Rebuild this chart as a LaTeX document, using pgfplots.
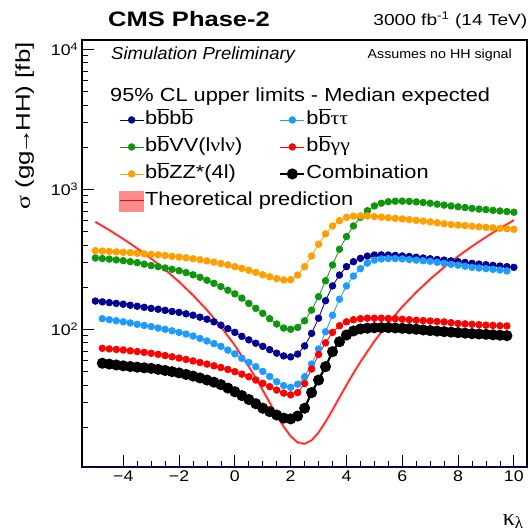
\documentclass[border=0pt]{standalone}
\usepackage{pgfplots}
\pgfplotsset{compat=1.18}
\usepackage{fontspec}
\setmainfont{Liberation Sans}
\newfontfamily\grk{Liberation Serif}
\newcommand\sx[1]{\scalebox{1.15}[1]{#1}}
\newcommand\bb{\ensuremath{\overline{\mbox{b}}}}
\definecolor{cnavy}{RGB}{0,0,145}
\definecolor{clblue}{RGB}{30,155,255}
\definecolor{cgreen}{RGB}{15,150,15}
\definecolor{cred}{RGB}{255,0,0}
\definecolor{corange}{RGB}{255,160,0}
\definecolor{cband}{RGB}{255,140,140}
\begin{document}
\begin{tikzpicture}
\begin{axis}[
 scale only axis, width=445bp, height=427.3bp,
 xmin=-5.49, xmax=10.46, ymode=log, ymin=10.33, ymax=11650,
 axis line style={line width=1.8bp},
 tick align=inside, xtick pos=left, ytick pos=left,
 major tick length=12bp, minor tick length=6bp,
 tick style={black, line width=0.8bp},
 xtick={-4,-2,0,2,4,6,8,10},
 xticklabels={\sx{−4},\sx{−2},\sx{0},\sx{2},\sx{4},\sx{6},\sx{8},\sx{10}},
 minor x tick num=3,
 ytick={100,1000,10000},
 yticklabels={\sx{10\textsuperscript{2}},\sx{10\textsuperscript{3}},\sx{10\textsuperscript{4}}},
 minor ytick={20,30,40,50,60,70,80,90,200,300,400,500,600,700,800,900,2000,3000,4000,5000,6000,7000,8000,9000},
 /pgf/number format/assume math mode=true,
 tick label style={font=\fontsize{15.5}{16}\selectfont},
 legend columns=2,
 legend cell align=left,
 legend style={at={(0.077,0.842)}, anchor=north west, draw=none, fill=none,
   font=\fontsize{19}{20}\selectfont, row sep=6.5bp,
   /tikz/every even column/.append style={column sep=36bp},
   nodes={inner sep=1bp, text height=14bp, text depth=4.5bp}},
 legend image code/.code={\draw[mark repeat=2,mark phase=2] plot coordinates {(0bp,0bp)(12bp,0bp)(24bp,0bp)};},
]
\addplot[cnavy, mark=*, mark size=3.3bp, line width=0.8bp] coordinates {
(-5,159)(-4.75,157)(-4.5,155)(-4.25,153)(-4,151)(-3.75,148.5)(-3.5,146)(-3.25,143.5)(-3,141)(-2.75,139)(-2.5,136.5)(-2.25,134)(-2,132)(-1.75,129)(-1.5,126)(-1.25,122)(-1,118)(-0.75,113)(-0.5,107)(-0.25,101)(0,95)(0.25,89)(0.5,84)(0.75,79.5)(1,75.5)(1.25,71.5)(1.5,67.5)(1.75,64.5)(2,63.5)(2.25,66.5)(2.5,76)(2.75,93.5)(3,120)(3.25,160)(3.5,204)(3.75,244)(4,280)(4.25,304)(4.5,321)(4.75,333)(5,339)(5.25,340)(5.5,339)(5.75,337)(6,334)(6.25,331)(6.5,327)(6.75,323)(7,319)(7.25,315)(7.5,312)(7.75,308)(8,304)(8.25,300)(8.5,296)(8.75,292)(9,289)(9.25,286)(9.5,283)(9.75,280)(10,277)};
\addlegendentry{\sx{b\bb b\bb}}
\addplot[clblue, mark=*, mark size=3.3bp, line width=0.8bp] coordinates {
(-4.75,119)(-4.5,117)(-4.25,115)(-4,113)(-3.75,111)(-3.5,108.5)(-3.25,106.5)(-3,104.5)(-2.75,102)(-2.5,100)(-2.25,97.5)(-2,95)(-1.75,92.5)(-1.5,89.5)(-1.25,86)(-1,82.5)(-0.75,79)(-0.5,75.5)(-0.25,71)(0,66.7)(0.25,62)(0.5,58)(0.75,54)(1,50)(1.25,46)(1.5,42.2)(1.75,39.6)(2,38.5)(2.25,40.5)(2.5,45.8)(2.75,56.4)(3,72.3)(3.25,96)(3.5,126)(3.75,164)(4,204)(4.25,240)(4.5,271)(4.75,297)(5,312)(5.25,318)(5.5,320)(5.75,320)(6,318)(6.25,315)(6.5,312)(6.75,309)(7,306)(7.25,301)(7.5,296)(7.75,291)(8,287)(8.25,282)(8.5,277)(8.75,274)(9,271)(9.25,268)(9.5,265)(9.75,261)};
\addlegendentry{\sx{b\bb{\grk ττ}}}
\addplot[cgreen, mark=*, mark size=3.3bp, line width=0.8bp] coordinates {
(-5,323)(-4.75,320)(-4.5,317)(-4.25,313)(-4,309)(-3.75,304)(-3.5,299)(-3.25,292)(-3,285)(-2.75,280)(-2.5,274)(-2.25,268)(-2,262)(-1.75,254)(-1.5,245)(-1.25,235)(-1,224)(-0.75,213)(-0.5,202)(-0.25,190)(0,179)(0.25,167)(0.5,153)(0.75,141)(1,130)(1.25,119)(1.5,109)(1.75,102)(2,100)(2.25,103)(2.5,115)(2.75,137)(3,171)(3.25,222)(3.5,288)(3.75,373)(4,459)(4.25,547)(4.5,631)(4.75,703)(5,760)(5.25,795)(5.5,815)(5.75,822)(6,823)(6.25,820)(6.5,813)(6.75,804)(7,795)(7.25,783)(7.5,771)(7.75,760)(8,750)(8.25,740)(8.5,730)(8.75,722)(9,715)(9.25,707)(9.5,700)(9.75,693)(10,686)};
\addlegendentry{\sx{b\bb VV(l{\grk ν}l{\grk ν})}}
\addplot[cred, mark=*, mark size=3.3bp, line width=0.8bp] coordinates {
(-4.75,73.1)(-4.5,72.4)(-4.25,71.8)(-4,71.1)(-3.75,70.2)(-3.5,69.3)(-3.25,68.4)(-3,67.4)(-2.75,66.2)(-2.5,64.9)(-2.25,63.6)(-2,62.3)(-1.75,60.9)(-1.5,59.4)(-1.25,57.9)(-1,56.4)(-0.75,54.8)(-0.5,53.3)(-0.25,51.6)(0,49.8)(0.25,47.8)(0.5,45.8)(0.75,43.4)(1,41.1)(1.25,38.9)(1.5,36.8)(1.75,35)(2,34)(2.25,35.3)(2.5,41)(2.75,52)(3,66)(3.25,80)(3.5,95)(3.75,106)(4,113)(4.25,117)(4.5,119)(4.75,120)(5,120)(5.25,120)(5.5,119.5)(5.75,119)(6,118)(6.25,117)(6.5,116)(6.75,115.3)(7,114.6)(7.25,113.7)(7.5,112.8)(7.75,111.4)(8,110)(8.25,109.3)(8.5,108.6)(8.75,107.8)(9,107)(9.25,106.5)(9.5,106)(9.75,105.6)};
\addlegendentry{\sx{b\bb{\grk γγ}}}
\addplot[corange, mark=*, mark size=3.3bp, line width=0.8bp] coordinates {
(-5,364)(-4.75,362)(-4.5,360)(-4.25,357)(-4,355)(-3.75,352)(-3.5,349)(-3.25,346)(-3,343)(-2.75,340)(-2.5,336)(-2.25,332)(-2,328)(-1.75,324)(-1.5,319)(-1.25,314)(-1,308)(-0.75,302)(-0.5,295)(-0.25,288)(0,280)(0.25,272)(0.5,264)(0.75,255)(1,245)(1.25,237)(1.5,230)(1.75,225)(2,226)(2.25,244)(2.5,280)(2.75,334)(3,405)(3.25,480)(3.5,547)(3.75,597)(4,630)(4.25,643)(4.5,647)(4.75,645)(5,638)(5.25,632)(5.5,626)(5.75,620)(6,614)(6.25,607)(6.5,600)(6.75,593)(7,585)(7.25,576)(7.5,567)(7.75,561)(8,555)(8.25,550)(8.5,545)(8.75,540)(9,535)(9.25,530)(9.5,526)(9.75,522)(10,518)};
\addlegendentry{\sx{b\bb ZZ*(4l)}}
\addplot[black, mark=*, mark size=4.4bp, line width=2.2bp] coordinates {
(-4.75,57.2)(-4.5,56.4)(-4.25,55.6)(-4,54.8)(-3.75,54.2)(-3.5,53.6)(-3.25,53.1)(-3,52.6)(-2.75,51.7)(-2.5,50.8)(-2.25,49.8)(-2,48.8)(-1.75,47.6)(-1.5,46.3)(-1.25,44.9)(-1,43.4)(-0.75,41.9)(-0.5,40.2)(-0.25,38)(0,35.8)(0.25,33.6)(0.5,31.5)(0.75,29.4)(1,27.3)(1.25,25.8)(1.5,24.4)(1.75,23.2)(2,22.9)(2.25,24)(2.5,27.3)(2.75,35.3)(3,43.4)(3.25,54.1)(3.5,69.2)(3.75,81.5)(4,91)(4.25,97.3)(4.5,100.5)(4.75,101.8)(5,102.5)(5.25,102.7)(5.5,102.7)(5.75,102.2)(6,101.6)(6.25,100.8)(6.5,100)(6.75,98.9)(7,97.8)(7.25,97)(7.5,96.2)(7.75,95.4)(8,94.6)(8.25,93.8)(8.5,93)(8.75,92.5)(9,92)(9.25,91.3)(9.5,90.7)(9.75,90)};
\addlegendentry{\sx{Combination}}
\addplot[cband, line width=2.6bp, forget plot] coordinates {
(-5,584.8)(-4.5,510.9)(-4,442.1)(-3.5,378.4)(-3,319.9)(-2.5,266.5)(-2,218.3)(-1.5,175.2)(-1,137.2)(-0.5,104.4)(0,76.68)(0.5,54.11)(0.75,44.76)(1,36.68)(1.25,29.89)(1.5,24.38)(1.75,20.16)(2,17.22)(2.25,15.56)(2.5,15.19)(2.75,16.11)(3,18.30)(3.25,21.78)(3.5,26.54)(3.75,32.59)(4,39.92)(4.25,48.53)(4.5,58.43)(5,82.08)(5.5,110.86)(6,144.78)(6.5,183.83)(7,228.02)(7.5,277.34)(8,331.8)(8.5,391.39)(9,456.12)(9.5,525.98)(10,600.98)};
\addplot[cred, line width=0.8bp, forget plot] coordinates {
(-5,584.8)(-4.5,510.9)(-4,442.1)(-3.5,378.4)(-3,319.9)(-2.5,266.5)(-2,218.3)(-1.5,175.2)(-1,137.2)(-0.5,104.4)(0,76.68)(0.5,54.11)(0.75,44.76)(1,36.68)(1.25,29.89)(1.5,24.38)(1.75,20.16)(2,17.22)(2.25,15.56)(2.5,15.19)(2.75,16.11)(3,18.30)(3.25,21.78)(3.5,26.54)(3.75,32.59)(4,39.92)(4.25,48.53)(4.5,58.43)(5,82.08)(5.5,110.86)(6,144.78)(6.5,183.83)(7,228.02)(7.5,277.34)(8,331.8)(8.5,391.39)(9,456.12)(9.5,525.98)(10,600.98)};
\addlegendimage{legend image code/.code={\fill[cband] (0bp,-10bp) rectangle (24bp,10bp); \draw[cred, line width=1bp] (0bp,0bp) -- (24bp,0bp);}}
\addlegendentry{\rlap{\sx{Theoretical prediction}}}
\draw[cnavy, line width=1.2bp] (rel axis cs:0,0) -- (rel axis cs:1,0);
\end{axis}
\node[anchor=base west, inner sep=0] at ([xshift=26.3bp,yshift=440.3bp]current axis.south west) {\fontsize{21}{22}\selectfont\bfseries\scalebox{1.22}[1]{CMS Phase-2}};
\node[anchor=base east, inner sep=0] at ([xshift=445.8bp,yshift=441.3bp]current axis.south west) {\fontsize{16}{17}\selectfont\scalebox{1.2}[1]{3000 fb\textsuperscript{-1} (14 TeV)}};
\node[anchor=base west, inner sep=0] at ([xshift=29.3bp,yshift=407.3bp]current axis.south west) {\fontsize{17.5}{18}\selectfont\itshape\scalebox{1.06}[1]{Simulation Preliminary}};
\node[anchor=base east, inner sep=0] at ([xshift=430.3bp,yshift=408.3bp]current axis.south west) {\fontsize{13}{14}\selectfont\scalebox{1.1}[1]{Assumes no HH signal}};
\node[anchor=base west, inner sep=0] at ([xshift=28.3bp,yshift=365.3bp]current axis.south west) {\fontsize{19}{20}\selectfont\sx{95\% CL upper limits - Median expected}};
\node[anchor=base east, rotate=90, inner sep=0] at ([xshift=-51.7bp,yshift=425.3bp]current axis.south west) {\fontsize{20}{21}\selectfont\scalebox{1.3}[1]{{\grk σ} (gg\kern-0.12em→\kern-0.12em HH) [fb]}};
\node[anchor=base east, inner sep=0] at ([xshift=442bp,yshift=-57.7bp]current axis.south west) {\fontsize{24}{25}\selectfont\grk κ\textsubscript{λ}};
\pgfresetboundingbox
\path ([xshift=-81.7bp,yshift=-64.7bp]current axis.south west) rectangle ([xshift=2.3bp,yshift=40bp]current axis.north east);
\end{tikzpicture}
\end{document}
